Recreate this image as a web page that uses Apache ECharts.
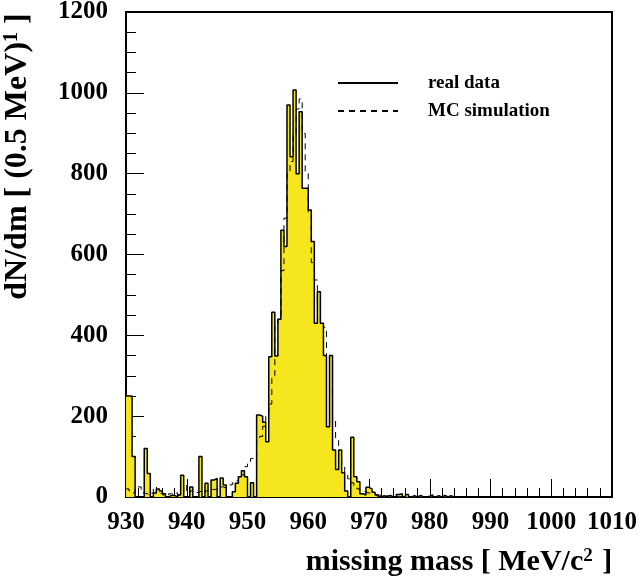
<!DOCTYPE html>
<html>
<head>
<meta charset="utf-8">
<script src="https://cdn.jsdelivr.net/npm/echarts@6/dist/echarts.min.js"></script>
<style>
  html, body { margin: 0; padding: 0; background: #fff; }
  #chart { width: 639px; height: 584px; }
</style>
</head>
<body>
<div id="chart"></div>
<script>
// histogram binning: 0.5 MeV bins from 930 to 1010
var binStart = 930;
var binWidth = 0.5;

// real data, counts per bin
var realCounts = [
  250, 250, 100, 0, 0, 0, 120, 58, 0, 10,
  20, 15, 8, 0, 4, 4, 0, 5, 54, 0,
  0, 25, 0, 0, 100, 0, 34, 0, 42, 46,
  0, 47, 30, 0, 0, 13, 34, 50, 65, 50,
  0, 35, 0, 203, 200, 185, 137, 347, 457, 349,
  440, 660, 620, 970, 842, 1007, 800, 953, 764, 764,
  710, 632, 430, 508, 430, 350, 174, 350, 116, 68,
  116, 60, 15, 0, 148, 50, 38, 8, 5, 24,
  20, 12, 5, 0, 3, 0, 4, 0, 0, 6,
  8, 0, 6, 0, 3, 0, 4, 0, 0, 2,
  5, 0, 3, 0, 4, 0, 3, 0, 0, 0,
  0, 0, 0, 0, 0, 0, 0, 0, 0, 0,
  0, 0, 0, 0, 0, 0, 0, 0, 0, 0,
  0, 0, 0, 0, 0, 0, 0, 0, 0, 0,
  0, 0, 0, 0, 0, 0, 0, 0, 0, 0,
  0, 0, 0, 0, 0, 0, 0, 0, 0, 0
];

// MC simulation, counts per bin
var mcCounts = [
  20, 15, 10, 25, 25, 10, 8, 5, 10, 25,
  8, 10, 5, 3, 8, 5, 10, 5, 8, 30,
  10, 15, 10, 12, 15, 10, 15, 20, 18, 20,
  20, 25, 22, 25, 30, 35, 40, 50, 55, 75,
  85, 95, 100, 140, 150, 175, 200, 230, 300, 430,
  440, 560, 690, 800, 830, 900, 960, 985, 900, 800,
  700, 580, 537, 480, 430, 420, 340, 260, 190, 140,
  100, 80, 60, 45, 35, 28, 20, 15, 12, 10,
  8, 6, 5, 4, 4, 3, 3, 2, 2, 1,
  1, 0, 0, 0, 0, 0, 0, 0, 0, 0,
  0, 0, 0, 0, 0, 0, 0, 0, 0, 0,
  0, 0, 0, 0, 0, 0, 0, 0, 0, 0,
  0, 0, 0, 0, 0, 0, 0, 0, 0, 0,
  0, 0, 0, 0, 0, 0, 0, 0, 0, 0,
  0, 0, 0, 0, 0, 0, 0, 0, 0, 0,
  0, 0, 0, 0, 0, 0, 0, 0, 0, 0
];

var seriesNames = ['real data', 'MC simulation'];

// step series need a point at every bin's left edge plus the last right edge
function toSteps(counts) {
  var pts = [];
  for (var i = 0; i < counts.length; i++) {
    pts.push([binStart + i * binWidth, counts[i]]);
  }
  pts.push([binStart + counts.length * binWidth, counts[counts.length - 1]]);
  return pts;
}

var font = 'Liberation Serif';

var mychart = echarts.init(document.getElementById('chart'));

var option = {
  animation: false,
  grid: {
    left: 126, right: 27, top: 12, bottom: 87,
    outerBoundsMode: 'none',
    containLabel: false,
    show: true,
    borderColor: '#000',
    borderWidth: 2,
    backgroundColor: 'transparent'
  },
  legend: {
    orient: 'vertical',
    left: 332,
    top: 68,
    itemWidth: 60,
    itemHeight: 14,
    itemGap: 8,
    itemStyle: { opacity: 0 },
    textStyle: {
      fontFamily: font,
      fontWeight: 'bold',
      fontSize: 19,
      color: '#000',
      lineHeight: 20,
      padding: [0, 0, 0, 25]
    },
    data: seriesNames
  },
  xAxis: {
    type: 'value',
    min: 930,
    max: 1010,
    interval: 10,
    name: '{a|missing mass [ MeV/c}{s|2}{a| ]}',
    nameLocation: 'middle',
    nameGap: 50,
    nameTextStyle: {
      padding: [0, 0, 0, 180],
      rich: {
        a: { fontFamily: font, fontWeight: 'bold', fontSize: 30, color: '#000' },
        s: { fontFamily: font, fontWeight: 'bold', fontSize: 19, color: '#000', verticalAlign: 'top', padding: [0, 2, 0, 0] }
      }
    },
    axisLine: { lineStyle: { color: '#000', width: 2 } },
    axisTick: { inside: true, length: 18, lineStyle: { color: '#000', width: 1 } },
    minorTick: { show: true, splitNumber: 5, length: 9, lineStyle: { color: '#000', width: 1 } },
    splitLine: { show: false },
    axisLabel: {
      margin: 13,
      formatter: function (v) { return String(v); },
      fontFamily: font,
      fontWeight: 'bold',
      fontSize: 25,
      color: '#000'
    }
  },
  yAxis: {
    type: 'value',
    min: 0,
    max: 1200,
    interval: 200,
    name: '{a|dN/dm [ (0.5 MeV)}{s|1}{a| ]}',
    nameLocation: 'middle',
    nameRotate: 90,
    nameGap: 92,
    nameTextStyle: {
      padding: [0, 0, 0, 196],
      rich: {
        a: { fontFamily: font, fontWeight: 'bold', fontSize: 32, color: '#000' },
        s: { fontFamily: font, fontWeight: 'bold', fontSize: 20, color: '#000', verticalAlign: 'top' }
      }
    },
    axisLine: { show: true, lineStyle: { color: '#000', width: 2 } },
    axisTick: { show: true, inside: true, length: 18, lineStyle: { color: '#000', width: 1 } },
    minorTick: { show: true, splitNumber: 4, length: 10, lineStyle: { color: '#000', width: 1 } },
    splitLine: { show: false },
    axisLabel: {
      margin: 18,
      formatter: function (v) { return String(v); },
      fontFamily: font,
      fontWeight: 'bold',
      fontSize: 25,
      color: '#000'
    }
  },
  series: [
    {
      name: seriesNames[0],
      type: 'line',
      step: 'end',
      symbol: 'none',
      data: toSteps(realCounts),
      lineStyle: { color: '#000', width: 1.5 },
      itemStyle: { color: '#000' },
      areaStyle: { color: '#f5e61e', opacity: 1 },
      z: 2
    },
    {
      name: seriesNames[1],
      type: 'line',
      step: 'end',
      symbol: 'none',
      data: toSteps(mcCounts),
      lineStyle: { color: '#000', width: 1, type: [6, 5] },
      itemStyle: { color: '#000' },
      z: 3
    }
  ]
};
mychart.setOption(option);
</script>
</body>
</html>
